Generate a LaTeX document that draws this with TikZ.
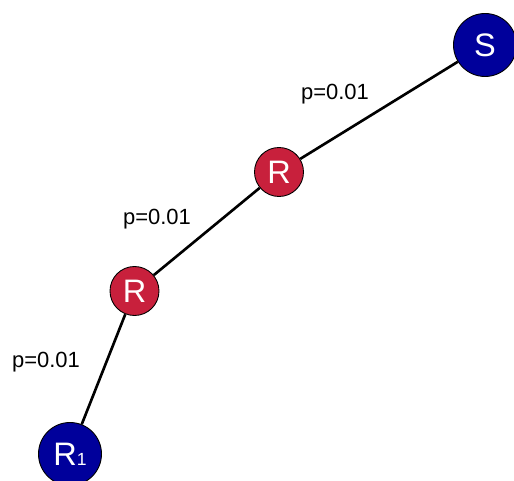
\documentclass[tikz,border=0pt]{standalone}
\usepackage{fontspec}
\setmainfont{Liberation Sans}
\usepackage{tikz}
\usetikzlibrary{positioning}
\definecolor{srcBlue}{RGB}{0,0,155}
\definecolor{relayRed}{RGB}{200,32,60}

\begin{document}
\begin{tikzpicture}[
    bignode/.style={circle, draw=black, line width=0.5pt, fill=srcBlue, text=white, minimum size=1.26cm, inner sep=0pt, font=\fontsize{18.5}{19}\selectfont},
    relay/.style={circle, draw=black, line width=0.5pt, fill=relayRed, text=white, minimum size=0.98cm, inner sep=0pt, font=\fontsize{18.5}{19}\selectfont},
    link/.style={line width=1.5pt, draw=black},
    plabel/.style={font=\fontsize{12.5}{14}\selectfont, text=black},
]
\useasboundingbox (0,0) rectangle (10.28,9.62);

% --- Nodes ---
\node[bignode] (src) at (9.70, 8.72) {S};
\node[relay] (r1) at (5.58, 6.18) {R};
\node[relay] (r2) at (2.69, 3.80) {R};
\node[bignode] (dst) at (1.40, 0.54) {R{\fontsize{10}{10}\selectfont 1}};

% --- Links ---
\draw[link] (src) -- (r1);
\draw[link] (r1) -- (r2);
\draw[link] (r2) -- (dst);

% --- Link probabilities ---
\node[plabel] (p1) at (6.70, 7.74) {p=0.01};
\node[plabel] (p2) at (3.14, 5.24) {p=0.01};
\node[plabel] (p3) at (0.92, 2.38) {p=0.01};

\end{tikzpicture}
\end{document}
